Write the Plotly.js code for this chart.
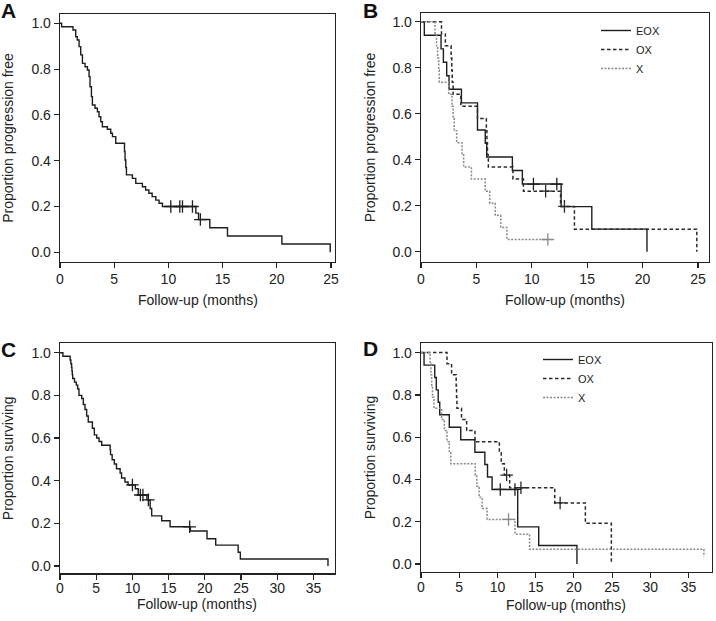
<!DOCTYPE html>
<html><head><meta charset="utf-8">
<script src="https://cdn.plot.ly/plotly-3.0.1.min.js"></script>
<style>html,body{margin:0;padding:0;background:#fff}#chart{width:716px;height:621px}</style>
</head><body><div id="chart"></div>
<script>
// ---------- Panel A: progression-free, all patients ----------
const pfsAllTime = [0.15,1.2,1.45,1.6,1.76,1.91,2.07,2.31,2.53,2.68,2.77,2.9,2.99,3.23,3.45,3.6,3.76,3.91,4.37,4.68,4.84,5.14,5.95,6.0,6.07,6.13,6.68,6.99,7.6,7.9,8.2,8.5,8.84,9.14,9.45,12.53,12.78,13.82,15.45,20.47,24.93];
const pfsAllSurv = [0.985,0.971,0.941,0.927,0.898,0.862,0.825,0.81,0.796,0.767,0.723,0.68,0.643,0.629,0.614,0.592,0.57,0.548,0.537,0.52,0.505,0.476,0.44,0.403,0.37,0.338,0.323,0.301,0.286,0.272,0.258,0.243,0.228,0.214,0.2,0.171,0.143,0.107,0.071,0.036,0];
const pfsAllCensor = [10.22,11.05,11.3,12.22,12.95];

// ---------- Panel B: progression-free by arm ----------
const pfsEoxTime = [0.3,1.81,2.02,2.32,2.53,3.65,5.1,5.8,5.93,8.25,9.15,12.65,15.42,20.4];
const pfsEoxSurv = [0.941,0.882,0.824,0.765,0.706,0.647,0.529,0.471,0.412,0.353,0.294,0.196,0.098,0];
const pfsEoxCensor = [10.15,12.26];
const pfsOxTime = [1.85,2.2,2.72,2.78,2.82,2.9,3.6,5.1,5.9,5.95,6.0,6.08,8.3,9.25,12.6,13.85,24.9];
const pfsOxSurv = [0.947,0.895,0.842,0.789,0.737,0.684,0.632,0.579,0.526,0.474,0.421,0.368,0.316,0.263,0.197,0.098,0];
const pfsOxCensor = [11.25,12.95];
const pfsXTime = [1.27,1.4,1.5,1.6,1.65,2.5,2.8,2.9,3.0,3.22,3.7,3.85,4.55,5.8,6.2,6.7,7.2,7.75];
const pfsXSurv = [0.947,0.895,0.842,0.789,0.737,0.684,0.632,0.579,0.526,0.474,0.421,0.368,0.316,0.263,0.211,0.158,0.105,0.053];
const pfsXCensor = [11.45];

// ---------- Panel C: overall survival, all patients ----------
const osAllTime = [0.4,1.4,1.5,1.6,1.65,1.7,1.75,2.0,2.25,2.45,2.62,3.0,3.22,3.45,3.68,3.9,4.47,4.74,5.07,5.39,5.76,6.92,6.98,7.2,7.5,7.8,8.3,8.5,8.97,9.4,10.4,10.8,12.0,12.45,12.66,14.04,15.2,18.0,20.3,21.5,24.6,24.9,37.0];
const osAllSurv = [0.983,0.966,0.948,0.931,0.914,0.897,0.879,0.862,0.848,0.83,0.80,0.785,0.757,0.734,0.703,0.675,0.646,0.615,0.6,0.584,0.566,0.545,0.522,0.498,0.478,0.456,0.436,0.413,0.394,0.38,0.362,0.333,0.31,0.27,0.235,0.212,0.184,0.164,0.128,0.098,0.065,0.033,0];
const osAllCensor = [10.0,11.1,11.45,12.2,17.9];

// ---------- Panel D: overall survival by arm ----------
const osEoxTime = [0.4,1.8,2.0,2.25,2.45,3.7,5.2,7.05,8.35,8.7,9.3,12.65,15.4,20.4];
const osEoxSurv = [0.941,0.882,0.824,0.765,0.706,0.647,0.588,0.529,0.471,0.412,0.353,0.176,0.088,0];
const osEoxCensor = [10.37,12.29];
const osOxTime = [3.4,4.0,4.6,4.65,4.7,5.3,5.97,7.06,10.25,10.5,10.9,11.6,17.5,21.5,24.9];
const osOxSurv = [0.947,0.895,0.842,0.789,0.737,0.684,0.632,0.579,0.526,0.474,0.421,0.361,0.289,0.193,0];
const osOxCensor = [11.2,13.07,18.2];
const osXTime = [1.2,1.3,1.4,1.5,1.7,2.7,3.05,3.4,3.7,3.9,7.1,7.3,7.6,8.0,8.65,12.3,14.2,37.0];
const osXSurv = [0.947,0.895,0.842,0.789,0.737,0.684,0.632,0.579,0.526,0.474,0.421,0.368,0.316,0.263,0.211,0.141,0.07,0.035];
const osXCensor = [11.45];

const armNames = ['EOX','OX','X'];
const xTicksPfs = [0,5,10,15,20,25];
const xTicksOs = [0,5,10,15,20,25,30,35];
const yTicks = [0,0.2,0.4,0.6,0.8,1.0];

// ---------- helpers ----------
const FONT = 'Liberation Sans, Arial, Helvetica, sans-serif';
const INK = '#222';
const styles = {
  EOX: {color:'#1e1e1e', dash:'solid', width:1.4},
  OX:  {color:'#2a2a2a', dash:'3.5px,2.5px', width:1.5},
  X:   {color:'#8a8a8a', dash:'2px,1.5px', width:1.5},
  ALL: {color:'#1e1e1e', dash:'solid', width:1.4}
};
function stepCurve(times, surv, censors){
  const x=[0], y=[1];
  times.forEach((t,i)=>{x.push(t); y.push(surv[i]);});
  const lastC = censors.length ? Math.max(...censors) : 0;
  if (lastC > times[times.length-1]) { x.push(lastC); y.push(surv[surv.length-1]); }
  return {x,y};
}
function stepAt(times, surv, t){
  let s=1; times.forEach((tt,i)=>{ if(tt<=t) s=surv[i]; }); return s;
}
const traces = [];
function addCurve(times, surv, censors, key, name, xa, ya, legendId){
  const c = stepCurve(times, surv, censors);
  const st = styles[key];
  traces.push({type:'scatter', mode:'lines', x:c.x, y:c.y, xaxis:xa, yaxis:ya,
    line:{shape:'hv', color:st.color, dash:st.dash, width:st.width},
    name:name, showlegend: !!legendId, legend: legendId || 'legend', hoverinfo:'skip'});
  traces.push({type:'scatter', mode:'markers', x:censors, y:censors.map(t=>stepAt(times,surv,t)),
    xaxis:xa, yaxis:ya, showlegend:false, hoverinfo:'skip',
    marker:{symbol:'cross-thin', size:9, color:st.color, line:{color:st.color, width:1.3}}});
}
addCurve(pfsAllTime, pfsAllSurv, pfsAllCensor, 'ALL', 'All', 'x', 'y', null);
addCurve(pfsEoxTime, pfsEoxSurv, pfsEoxCensor, 'EOX', armNames[0], 'x2', 'y2', 'legend');
addCurve(pfsOxTime, pfsOxSurv, pfsOxCensor, 'OX', armNames[1], 'x2', 'y2', 'legend');
addCurve(pfsXTime, pfsXSurv, pfsXCensor, 'X', armNames[2], 'x2', 'y2', 'legend');
addCurve(osAllTime, osAllSurv, osAllCensor, 'ALL', 'All', 'x3', 'y3', null);
addCurve(osEoxTime, osEoxSurv, osEoxCensor, 'EOX', armNames[0], 'x4', 'y4', 'legend2');
addCurve(osOxTime, osOxSurv, osOxCensor, 'OX', armNames[1], 'x4', 'y4', 'legend2');
addCurve(osXTime, osXSurv, osXCensor, 'X', armNames[2], 'x4', 'y4', 'legend2');

const W=716, H=621;
function xAxis(l, r, range, ticks, anchor, tickStand){
  return {domain:[l/W, r/W], range:range, anchor:anchor, tickvals:ticks, ticktext:ticks.map(String),
    showline:true, mirror:true, linecolor:INK, linewidth:1.3, ticks:'outside', ticklen:5, tickwidth:1.2, tickcolor:INK,
    showgrid:false, zeroline:false, tickfont:{family:FONT, size:14, color:INK}, ticklabelstandoff:tickStand,
    automargin:false, fixedrange:true};
}
function yAxis(t, b, range, title, anchor, titleStand){
  return {domain:[1-b/H, 1-t/H], range:range, anchor:anchor, tickvals:yTicks, ticktext:yTicks.map(v=>v.toFixed(1)),
    showline:true, mirror:true, linecolor:INK, linewidth:1.3, ticks:'outside', ticklen:5, tickwidth:1.2, tickcolor:INK,
    showgrid:false, zeroline:false, tickfont:{family:FONT, size:14, color:INK},
    title:{text:title, font:{family:FONT, size:14, color:INK}, standoff:titleStand}, automargin:false, fixedrange:true};
}
function letter(txt, cx, cy){
  return {text:'<b>'+txt+'</b>', x:cx/W, y:1-cy/H, xref:'paper', yref:'paper', xanchor:'center', yanchor:'middle',
    showarrow:false, font:{family:FONT, size:21, color:'#111'}};
}
function xTitle(axisRef, cy){
  return {text:'Follow-up (months)', x:0.5, xref:axisRef+' domain', y:1-cy/H, yref:'paper',
    xanchor:'center', yanchor:'middle', showarrow:false, borderpad:0, font:{family:FONT, size:14, color:INK}};
}
const layout = {
  width:W, height:H, margin:{l:0,r:0,t:0,b:0}, paper_bgcolor:'#fff', plot_bgcolor:'#fff',
  xaxis:  xAxis(60, 335, [0,25.37], xTicksPfs, 'y', -1),
  yaxis:  yAxis(14, 262, [-0.0424,1.0406], 'Proportion progression free', 'x', 16),
  xaxis2: xAxis(421, 709, [0,26.0], xTicksPfs, 'y2', -1),
  yaxis2: yAxis(13.3, 261.7, [-0.0435,1.0365], 'Proportion progression free', 'x2', 13),
  xaxis3: xAxis(60, 334.5, [0,37.9], xTicksOs, 'y3', -3),
  yaxis3: yAxis(343.3, 573.3, [-0.034,1.044], 'Proportion surviving', 'x3', 16),
  xaxis4: xAxis(421, 711.5, [0,38.0], xTicksOs, 'y4', -3),
  yaxis4: yAxis(343.3, 571.7, [-0.036,1.044], 'Proportion surviving', 'x4', 13),
  legend: {x:596/W, y:1-16/H, xanchor:'left', yanchor:'top', bgcolor:'rgba(0,0,0,0)', borderwidth:0,
    font:{family:FONT, size:11, color:INK}, tracegroupgap:0, itemwidth:30},
  legend2:{x:538/W, y:1-345/H, xanchor:'left', yanchor:'top', bgcolor:'rgba(0,0,0,0)', borderwidth:0,
    font:{family:FONT, size:11, color:INK}, tracegroupgap:0, itemwidth:30},
  annotations:[letter('A',8.5,11), letter('B',370.5,11), letter('C',8.5,350), letter('D',370.5,348),
    xTitle('x', 300), xTitle('x2', 300), xTitle('x3', 604), xTitle('x4', 605)],
  showlegend:true
};
Plotly.newPlot('chart', traces, layout, {staticPlot:true, displayModeBar:false});
</script></body></html>
